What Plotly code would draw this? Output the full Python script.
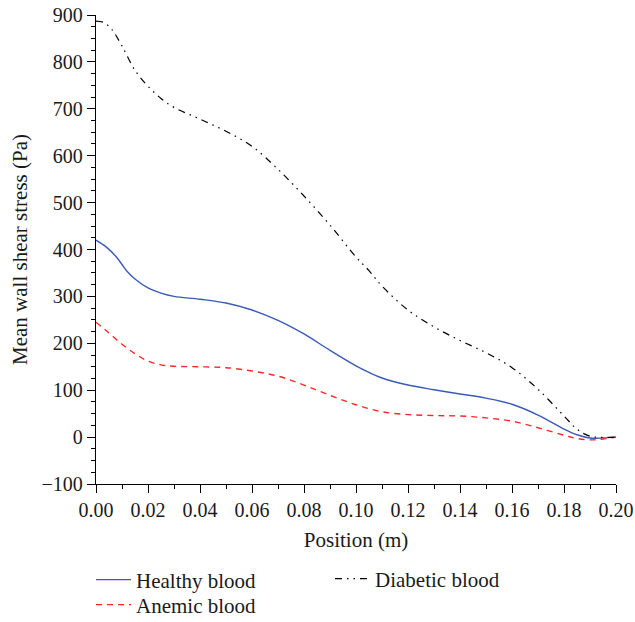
import plotly.graph_objects as go

# Data
x_healthy = [0.0, 0.004, 0.008, 0.010, 0.012, 0.015, 0.02, 0.025, 0.03, 0.04, 0.05, 0.06, 0.07, 0.08, 0.09, 0.10, 0.105, 0.11, 0.12, 0.13, 0.14, 0.15, 0.16, 0.17, 0.18, 0.185, 0.19, 0.195, 0.20]
y_healthy = [420, 405, 383, 368, 353, 337, 318, 307, 300, 294, 286, 271, 249, 220, 185, 152, 138, 126, 111, 101, 92, 83, 70, 47, 17, 5, -2, -2, 0]

x_anemic = [0.0, 0.005, 0.01, 0.015, 0.02, 0.025, 0.03, 0.04, 0.05, 0.06, 0.07, 0.08, 0.09, 0.10, 0.11, 0.12, 0.13, 0.14, 0.15, 0.16, 0.17, 0.18, 0.185, 0.19, 0.195, 0.20]
y_anemic = [245, 222, 198, 178, 162, 154, 151, 150, 148, 141, 130, 111, 89, 69, 54, 48, 46, 45, 41, 34, 20, 4, -3, -6, -4, 0]

x_diabetic = [0.0, 0.003, 0.006, 0.01, 0.015, 0.02, 0.025, 0.03, 0.04, 0.05, 0.06, 0.07, 0.08, 0.09, 0.10, 0.105, 0.11, 0.12, 0.13, 0.14, 0.15, 0.16, 0.17, 0.18, 0.185, 0.19, 0.20]
y_diabetic = [887, 884, 870, 834, 782, 748, 722, 703, 678, 652, 620, 571, 514, 452, 384, 355, 322, 271, 235, 206, 180, 148, 102, 45, 17, 2, 0]

FONT = "Liberation Serif"
TICK_SIZE = 20
TEXT_SIZE = 21

fig = go.Figure()
fig.add_trace(go.Scatter(x=x_healthy, y=y_healthy, mode="lines", name="Healthy blood",
                         line=dict(color="#3a5bb5", width=1.4, shape="spline", smoothing=1.0),
                         legend="legend"))
fig.add_trace(go.Scatter(x=x_anemic, y=y_anemic, mode="lines", name="Anemic blood",
                         line=dict(color="#ff2626", width=1.4, dash="6px,5px", shape="spline", smoothing=1.0),
                         legend="legend3"))
fig.add_trace(go.Scatter(x=x_diabetic, y=y_diabetic, mode="lines", name="Diabetic blood",
                         line=dict(color="#000000", width=1.2, dash="7px,5px,1.5px,5px,1.5px,5px",
                                   shape="spline", smoothing=1.0),
                         legend="legend2"))

axis_common = dict(showline=True, linecolor="black", linewidth=1.3, ticks="outside",
                   ticklen=8, tickwidth=1.2, tickcolor="black", showgrid=False, zeroline=False,
                   mirror=False, automargin=False,
                   tickfont=dict(family=FONT, size=TICK_SIZE, color="#1a1a1a"))

leg_common = dict(xanchor="left", yanchor="middle", orientation="v", xref="paper", yref="container",
                  itemwidth=35, font=dict(family=FONT, size=TEXT_SIZE), bgcolor="rgba(0,0,0,0)")

fig.update_layout(
    width=635, height=622,
    margin=dict(l=96, r=19, t=15, b=138),
    paper_bgcolor="white", plot_bgcolor="white",
    font=dict(family=FONT, size=TEXT_SIZE, color="#1a1a1a"),
    showlegend=True,
    legend=dict(x=-0.0096, y=1 - 580 / 622, **leg_common),
    legend2=dict(x=0.45, y=1 - 579 / 622, **leg_common),
    legend3=dict(x=-0.0096, y=1 - 605 / 622, **leg_common),
)
fig.update_xaxes(range=[0, 0.2], dtick=0.02, tickformat=".2f",
                 minor=dict(ticks="outside", ticklen=4, dtick=0.01, tickcolor="black"),
                 title=dict(text="Position (m)", font=dict(family=FONT, size=TEXT_SIZE), standoff=12),
                 **axis_common)
fig.update_yaxes(range=[-100, 900], dtick=100,
                 minor=dict(ticks="outside", ticklen=4, dtick=25, tickcolor="black"),
                 title=dict(text="Mean wall shear stress (Pa)", font=dict(family=FONT, size=TEXT_SIZE), standoff=8),
                 **axis_common)

fig.write_html("out.html")
